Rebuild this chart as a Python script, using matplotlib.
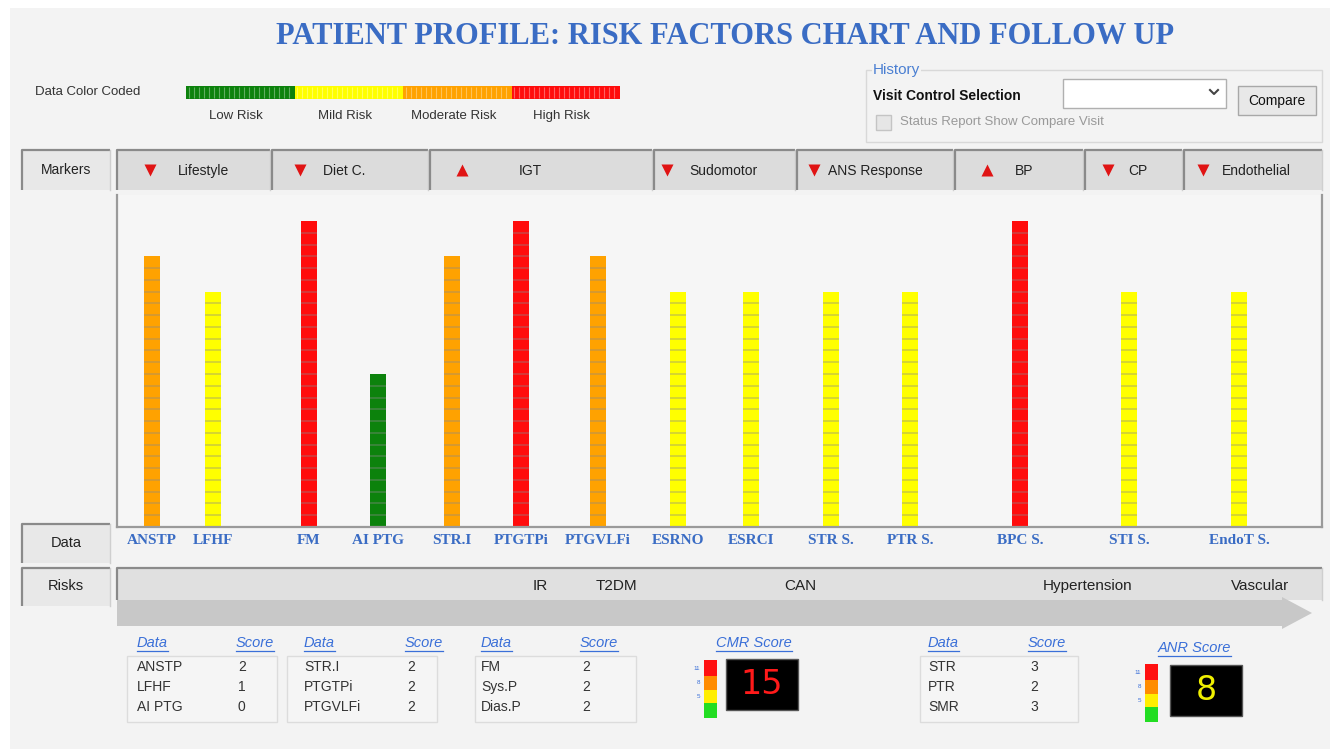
import matplotlib
matplotlib.use('Agg')
import matplotlib.pyplot as plt
from matplotlib.patches import Rectangle, Polygon

# ---- data ----
title = 'PATIENT PROFILE: RISK FACTORS CHART AND FOLLOW UP'
markers = ['Lifestyle', 'Diet C.', 'IGT', 'Sudomotor', 'ANS Response', 'BP', 'CP', 'Endothelial']
marker_trend = ['down', 'down', 'up', 'down', 'down', 'up', 'down', 'down']
data_names = ['ANSTP', 'LFHF', 'FM', 'AI PTG', 'STR.I', 'PTGTPi', 'PTGVLFi',
              'ESRNO', 'ESRCI', 'STR S.', 'PTR S.', 'BPC S.', 'STI S.', 'EndoT S.']
data_levels = [23, 20, 26, 13, 23, 26, 23, 20, 20, 20, 20, 26, 20, 20]
data_risk = ['Moderate', 'Mild', 'High', 'Low', 'Moderate', 'High', 'Moderate',
             'Mild', 'Mild', 'Mild', 'Mild', 'High', 'Mild', 'Mild']
risk_levels = ['Low', 'Mild', 'Moderate', 'High']
risks = ['IR', 'T2DM', 'CAN', 'Hypertension', 'Vascular']

table1_data = ['ANSTP', 'LFHF', 'AI PTG']
table1_score = [2, 1, 0]
table2_data = ['STR.I', 'PTGTPi', 'PTGVLFi']
table2_score = [2, 2, 2]
table3_data = ['FM', 'Sys.P', 'Dias.P']
table3_score = [2, 2, 2]
table4_data = ['STR', 'PTR', 'SMR']
table4_score = [3, 2, 3]
cmr_score = 15
anr_score = 8
gauge_ticks = ['11', '8', '5']

# ---- layout (pixel space of the 1330x749 picture) ----
W, H = 1330, 749
marker_spans = [(117, 270), (272, 428), (430, 652), (654, 795), (797, 953),
                (955, 1083), (1085, 1182), (1184, 1322)]
marker_arrow_x = [150, 300, 462, 667, 814, 987, 1108, 1203]
marker_label_x = [178, 323, 519, 689, 828, 1015, 1128, 1222]
bar_x = [152, 213, 309, 378, 452, 521, 598, 678, 751, 831, 910, 1020, 1129, 1239]
risk_x = [540, 616, 800, 1088, 1260]

colors = {'Low': '#0c820c', 'Mild': '#ffff00', 'Moderate': '#ffa200', 'High': '#ff0c0c'}
blue = '#3a6cc4'
sans = 'Liberation Sans'
serif = 'Liberation Serif'

fig = plt.figure(figsize=(W / 100, H / 100), dpi=100)
fig.patch.set_facecolor('white')
ax = fig.add_axes([0, 0, 1, 1])
ax.set_xlim(0, W)
ax.set_ylim(H, 0)
ax.axis('off')

# panel background
ax.add_patch(Rectangle((10, 8), W - 10, H - 8, facecolor='#f3f3f3', edgecolor='none'))


def tab(x0, y0, x1, y1, fill='#dcdcdc'):
    ax.add_patch(Rectangle((x0, y0), x1 - x0, y1 - y0, facecolor=fill, edgecolor='none'))
    ax.plot([x0, x0, x1], [y1, y0, y0], color='#8a8a8a', lw=1.6, solid_capstyle='butt')
    ax.plot([x1, x1], [y0, y1], color='#cfcfcf', lw=1)


# title
ax.text(725, 37, title, ha='center', va='center', color=blue, fontsize=22,
        fontweight='bold', family=serif)

# colour legend
ax.text(35, 92, 'Data Color Coded', ha='left', va='center', fontsize=9.5,
        color='#333333', family=sans)
seg_w = (620 - 186) / len(risk_levels)
for i, lvl in enumerate(risk_levels):
    x0 = 186 + i * seg_w
    ax.add_patch(Rectangle((x0, 86), seg_w, 13, facecolor=colors[lvl], edgecolor='none'))
    xs = [x0 + 2.5 + k * 5 for k in range(int(seg_w // 5))]
    ax.vlines(xs, 87, 98, color='white', alpha=0.35, lw=0.8)
    ax.text(x0 + seg_w / 2 - 4, 116, lvl + ' Risk', ha='center', va='center',
            fontsize=9.5, color='#333333', family=sans)

# history group box
ax.add_patch(Rectangle((866, 70), 1322 - 866, 72, facecolor='none',
                       edgecolor='#d8d8d8', lw=1))
ax.text(873, 70, 'History', ha='left', va='center', fontsize=11, color='#4a7fd2',
        family=sans, bbox=dict(facecolor='#f3f3f3', edgecolor='none', pad=0.5))
ax.text(873, 96, 'Visit Control Selection', ha='left', va='center', fontsize=10,
        fontweight='bold', color='#111111', family=sans)
ax.add_patch(Rectangle((1063, 79), 163, 29, facecolor='white', edgecolor='#b0b0b0', lw=1))
ax.plot([1210, 1214, 1218], [90, 94, 90], color='#444444', lw=1.5)
ax.add_patch(Rectangle((1238, 86), 78, 29, facecolor='#e8e8e8', edgecolor='#a8a8a8', lw=1))
ax.text(1277, 100.5, 'Compare', ha='center', va='center', fontsize=10,
        color='#111111', family=sans)
ax.add_patch(Rectangle((876, 115), 15, 15, facecolor='#e6e6e6', edgecolor='#c4c4c4', lw=1))
ax.text(900, 122, 'Status Report Show Compare Visit', ha='left', va='center',
        fontsize=9.5, color='#999999', family=sans)

# markers row
tab(22, 150, 110, 190, fill='#e8e8e8')
ax.text(66, 170, 'Markers', ha='center', va='center', fontsize=10, color='#222222', family=sans)
for name, trend, (x0, x1), mx, lx in zip(markers, marker_trend, marker_spans,
                                         marker_arrow_x, marker_label_x):
    tab(x0, 150, x1, 190)
    ax.plot(mx, 170, marker='v' if trend == 'down' else '^', color='#e01414',
            ms=8, mec='none')
    ax.text(lx, 171, name, ha='left', va='center', fontsize=10, color='#222222', family=sans)

# data / risks side tabs
tab(22, 524, 110, 563, fill='#e8e8e8')
ax.text(66, 543, 'Data', ha='center', va='center', fontsize=10.5, color='#222222', family=sans)
tab(22, 568, 110, 606, fill='#e8e8e8')
ax.text(66, 586, 'Risks', ha='center', va='center', fontsize=10.5, color='#222222', family=sans)

# risks band with arrow
tab(117, 568, 1322, 600, fill='#e0e0e0')
ax.add_patch(Polygon([(117, 600), (1282, 600), (1282, 597), (1312, 613), (1282, 629),
                      (1282, 626), (117, 626)], closed=True, facecolor='#c8c8c8',
                     edgecolor='none'))
for r, rx in zip(risks, risk_x):
    ax.text(rx, 586, r, ha='center', va='center', fontsize=11, color='#222222', family=sans)

# ---- bar chart ----
px_unit = (527 - 221) / max(data_levels)
cax = fig.add_axes([117 / W, 1 - 527 / H, (1322 - 117) / W, (527 - 195) / H])
cax.set_facecolor('#f6f6f6')
cax.set_xlim(117, 1322)
cax.set_ylim(0, (527 - 195) / px_unit)
bar_colors = [colors[r] for r in data_risk]
cax.bar(bar_x, data_levels, width=16, color=bar_colors, zorder=2)
for x, lv in zip(bar_x, data_levels):
    cax.hlines(range(1, lv), x - 8, x + 8, color='#8a8a8a', alpha=0.45, lw=1.1, zorder=3)
for s in ['left', 'bottom', 'right']:
    cax.spines[s].set_color('#9a9a9a')
    cax.spines[s].set_linewidth(1.6)
cax.spines['top'].set_visible(False)
cax.set_yticks([])
cax.set_xticks(bar_x)
cax.set_xticklabels(data_names, fontsize=11, fontweight='bold', family=serif, color=blue)
cax.tick_params(axis='x', length=0, pad=5)

# ---- bottom score tables ----
fig.canvas.draw()
renderer = fig.canvas.get_renderer()


def link_header(x, y, label):
    t = ax.text(x, y, label, ha='left', va='center', fontsize=10.5, style='italic',
                color='#3a6fd8', family=sans)
    bb = t.get_window_extent(renderer).transformed(ax.transData.inverted())
    ax.plot([bb.x0, bb.x1], [y + 8, y + 8], color='#3a6fd8', lw=0.9)


def score_table(x0, x1, data_x, score_x, names, scores):
    ax.add_patch(Rectangle((x0, 656), x1 - x0, 66, facecolor='#f5f5f5',
                           edgecolor='#dcdcdc', lw=1))
    link_header(data_x, 643, 'Data')
    link_header(score_x, 643, 'Score')
    for k, (n, s) in enumerate(zip(names, scores)):
        y = 667 + 20 * k
        ax.text(data_x, y, n, ha='left', va='center', fontsize=10, color='#333333', family=sans)
        ax.text(score_x + 2, y, str(s), ha='left', va='center', fontsize=10,
                color='#333333', family=sans)


score_table(127, 277, 137, 236, table1_data, table1_score)
score_table(287, 437, 304, 405, table2_data, table2_score)
score_table(475, 636, 481, 580, table3_data, table3_score)
score_table(920, 1078, 928, 1028, table4_data, table4_score)


def score_gauge(gx, gy, bx, by, header_x, header_y, label, value, vcolor):
    link_header(header_x, header_y, label)
    seg_h = [16, 14, 13, 15]
    seg_c = ['#ff1010', '#ff8c00', '#ffee00', '#22dd22']
    y = gy
    for h, c in zip(seg_h, seg_c):
        ax.add_patch(Rectangle((gx, y), 13, h, facecolor=c, edgecolor='none'))
        y += h
    for k, tk in enumerate(gauge_ticks):
        ax.text(gx - 4, gy + 8 + 14 * k, tk, ha='right', va='center', fontsize=4.5,
                color='#3a6fd8', family=sans)
    ax.add_patch(Rectangle((bx, by), 72, 51, facecolor='black', edgecolor='#555555', lw=1))
    ax.text(bx + 36, by + 26, str(value), ha='center', va='center', fontsize=24,
            color=vcolor, family='DejaVu Sans')


score_gauge(704, 660, 726, 659, 716, 643, 'CMR Score', cmr_score, '#ff1a1a')
score_gauge(1145, 664, 1170, 665, 1158, 648, 'ANR Score', anr_score, '#f0f000')

fig.savefig('out.png', dpi=100, facecolor=fig.get_facecolor())
